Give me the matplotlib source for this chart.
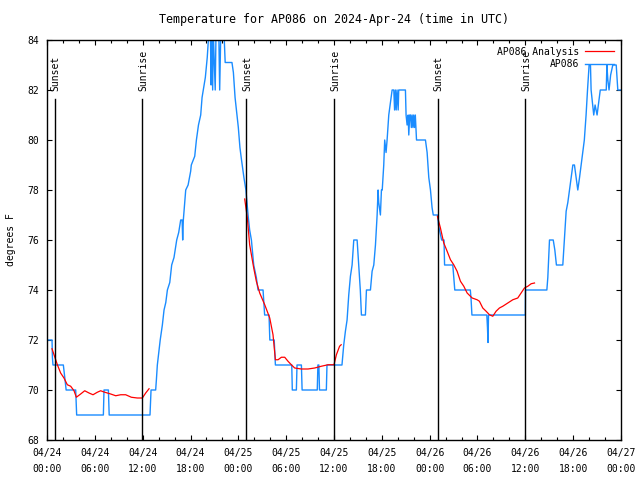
import datetime
import matplotlib
matplotlib.use("Agg")
import matplotlib.pyplot as plt
from matplotlib.ticker import MultipleLocator

# hours after 2024-04-24 00:00 UTC
start = datetime.datetime(2024, 4, 24, 0, 0)

obs_hours = [0, 0.63, 0.68, 0.75, 2.05, 2.2, 2.3, 2.4, 3.6, 3.72, 7.07, 7.15, 7.7, 7.8,
             12.92, 13.05, 13.63, 13.72, 13.84, 14.05, 14.2, 14.47, 14.68, 14.9, 15.1,
             15.4, 15.64, 15.93, 16.27, 16.52, 16.77, 16.95, 17.02, 17.1, 17.4, 17.7,
             18.02, 18.1, 18.53, 18.74, 19.0, 19.28, 19.45, 19.6, 19.86, 20.1, 20.3,
             20.5, 20.58, 20.66, 20.78, 20.86, 21.0, 21.1, 21.2, 21.55, 21.66, 21.8,
             22.2, 22.35, 23.2, 23.38, 23.59, 23.8, 24.0, 24.2, 24.4, 24.7, 24.95,
             25.22, 25.42, 25.64, 25.93, 26.26, 26.47, 27.1, 27.3, 27.85, 27.95, 28.5,
             28.65, 30.7, 30.77, 31.28, 31.36, 31.91, 32.0, 33.9, 33.98, 34.1, 34.18,
             35.04, 35.12, 37.0, 37.22, 37.43, 37.64, 37.85, 38.06, 38.27, 38.48, 38.9,
             39.1, 39.3, 39.44, 39.94, 40.07, 40.57, 40.78, 40.99, 41.2, 41.41, 41.53,
             41.61, 41.82, 41.95, 42.05, 42.24, 42.36, 42.53, 42.66, 42.87, 43.08,
             43.29, 43.5, 43.6, 43.7, 43.8, 43.91, 44.05, 44.12, 44.96, 45.04, 45.17,
             45.3, 45.38, 45.5, 45.6, 45.7, 45.8, 45.9, 46.0, 46.1, 46.2, 46.35, 47.47,
             47.68, 47.89, 48.1, 48.3, 48.45, 49.0, 49.1, 49.5, 49.8, 49.87, 50.9,
             51.15, 53.1, 53.2, 53.3, 55.17, 55.25, 55.32, 55.38, 60.0, 60.02, 62.7,
             62.82, 63.03, 63.5, 63.7, 63.9, 64.7, 64.9, 65.12, 65.33, 65.54, 65.75,
             65.96, 66.16, 66.37, 66.58, 66.8, 67.0, 67.2, 67.4, 67.62, 67.8, 68.0,
             68.17, 68.25, 68.45, 68.58, 68.75, 69.0, 69.2, 69.4, 70.15, 70.23, 70.35,
             70.5, 70.7, 70.97, 71.4, 71.6, 72.0]
obs_temps = [72, 72, 71.3, 71, 71, 70.6, 70.3, 70, 70, 69, 69, 70, 70, 69,
             69, 70, 70, 70.4, 71, 71.6, 72, 72.6, 73.2, 73.5, 74,
             74.3, 75, 75.3, 76, 76.3, 76.8, 76.8, 76, 76.8, 78, 78.2,
             78.75, 79, 79.35, 80, 80.6, 81, 81.7, 82, 82.5, 83.3, 84.3,
             84.3, 82.2, 84.3, 82, 84.3, 83, 82, 84.3, 84.3, 82, 84.3,
             84.3, 83.1, 83.1, 82.7, 81.7, 81.1, 80.5, 79.7, 79.2, 78.5, 78.0,
             77.0, 76.4, 76, 75, 74.5, 74, 74, 73, 73, 72, 72,
             71, 71, 70, 70, 71, 71, 70, 70, 71, 71, 70,
             70, 71, 71, 71.8, 72.35, 72.8, 73.8, 74.55, 75.0, 76, 76,
             75, 74, 73, 73, 74, 74, 74.75, 75, 75.8, 77, 78,
             77.5, 77, 78, 78, 79, 80, 79.5, 80, 81, 81.5,
             82, 82, 81.2, 82, 81.2, 82, 81.2, 82, 82, 81, 80.6,
             81, 80.2, 81, 81, 80.5, 81, 80.5, 81, 80.5, 81, 80, 80,
             79.5, 78.5, 78, 77.3, 77, 77, 76.6, 76, 76, 75, 75,
             74, 74, 73.6, 73, 73, 72.5, 71.9, 73, 73, 74, 74,
             74.5, 76, 76, 75.6, 75, 75, 76, 77.15, 77.5, 78, 78.5,
             79, 79, 78.5, 78, 78.5, 79, 79.5, 80, 81, 82, 83,
             83, 82, 81.4, 81, 81.4, 81, 81.5, 82, 82, 83, 82.4,
             82, 82.6, 83, 83, 82, 82]

an1_hours = [0.63, 0.88, 1.3, 1.71, 2.13, 2.55, 2.97, 3.39, 3.68, 4.22, 4.73, 5.27,
             5.77, 6.31, 6.73, 7.15, 7.57, 7.99, 8.62, 9.24, 9.87, 10.58, 11.33,
             11.96, 12.38, 12.8]
an1_temps = [71.65, 71.41, 71.01, 70.68, 70.48, 70.21, 70.15, 69.97, 69.71, 69.84,
             69.97, 69.88, 69.81, 69.91, 69.97, 69.92, 69.88, 69.84, 69.77, 69.81,
             69.81, 69.71, 69.68, 69.68, 69.88, 70.05]
an2_hours = [24.8, 25.13, 25.42, 25.64, 25.93, 26.26, 26.68, 27.31, 27.94, 28.35,
             28.65, 28.98, 29.4, 29.82, 30.23, 30.65, 31.07, 31.91, 32.74, 33.58,
             34.41, 35.25, 36.0, 36.3, 36.7, 36.9]
an2_temps = [77.64, 76.88, 75.81, 75.41, 74.88, 74.35, 73.88, 73.41, 72.88, 72.21,
             71.21, 71.21, 71.31, 71.31, 71.15, 71.01, 70.88, 70.84, 70.84, 70.88,
             70.95, 71.01, 71.01, 71.41, 71.75, 71.81]
an3_hours = [48.97, 49.35, 49.77, 50.19, 50.61, 51.02, 51.44, 51.86, 52.28, 52.7,
             53.33, 53.95, 54.24, 54.66, 55.08, 55.5, 55.92, 56.33, 56.75, 57.17,
             57.8, 58.43, 59.05, 59.47, 59.89, 60.31, 60.73, 61.15]
an3_temps = [76.95, 76.48, 75.88, 75.55, 75.21, 75.01, 74.75, 74.35, 74.15, 73.88,
             73.68, 73.61, 73.55, 73.28, 73.15, 73.01, 72.95, 73.15, 73.28, 73.35,
             73.48, 73.61, 73.68, 73.88, 74.08, 74.15, 74.25, 74.28]

sunset_hours = [0.96, 25.0, 49.0]
sunrise_hours = [11.97, 36.0, 60.02]

blue = '#1a8cff'
plt.rcParams['font.family'] = ['DejaVu Sans Mono']
plt.rcParams['font.size'] = 7

fig = plt.figure(figsize=(6.4, 4.8), dpi=100)
ax = fig.add_axes([47 / 640, 40 / 480, 574 / 640, 400 / 480])

ax.plot(an1_hours, an1_temps, color='red', lw=0.9, label='AP086 Analysis', zorder=3)
ax.plot(an2_hours, an2_temps, color='red', lw=0.9, zorder=3)
ax.plot(an3_hours, an3_temps, color='red', lw=0.9, zorder=3)
ax.plot(obs_hours, obs_temps, color=blue, lw=1.0, label='AP086', zorder=2)

for h in sunset_hours:
    ax.plot([h, h], [68, 81.65], color='black', lw=1.0, zorder=4)
    ax.text(h + 0.12, 81.95, 'Sunset', rotation=90, ha='center', va='bottom', fontsize=7)
for h in sunrise_hours:
    ax.plot([h, h], [68, 81.65], color='black', lw=1.0, zorder=4)
    ax.text(h + 0.12, 81.95, 'Sunrise', rotation=90, ha='center', va='bottom', fontsize=7)

ax.set_xlim(0, 72)
ax.set_ylim(68, 84)
ax.xaxis.set_minor_locator(MultipleLocator(2))
ax.yaxis.set_major_locator(MultipleLocator(2))
ticks = list(range(0, 73, 6))
ax.set_xticks(ticks)
ax.set_xticklabels([(start + datetime.timedelta(hours=t)).strftime('%m/%d\n%H:%M') for t in ticks],
                   linespacing=1.75)
ax.tick_params(which='both', direction='in', top=True, right=True, width=0.8)
ax.tick_params(which='major', length=3.5)
ax.tick_params(which='minor', length=2)
ax.tick_params(axis='x', pad=6)
ax.tick_params(axis='y', pad=6)
for s in ax.spines.values():
    s.set_linewidth(1.0)

ax.set_ylabel('degrees F', labelpad=8)
ax.set_title('Temperature for AP086 on 2024-Apr-24 (time in UTC)', pad=12)

ax.legend(loc='upper right', frameon=False, markerfirst=False, handlelength=3.0,
          borderaxespad=0.3, labelspacing=0.25, handletextpad=0.6)

fig.savefig('out.png', dpi=100)
